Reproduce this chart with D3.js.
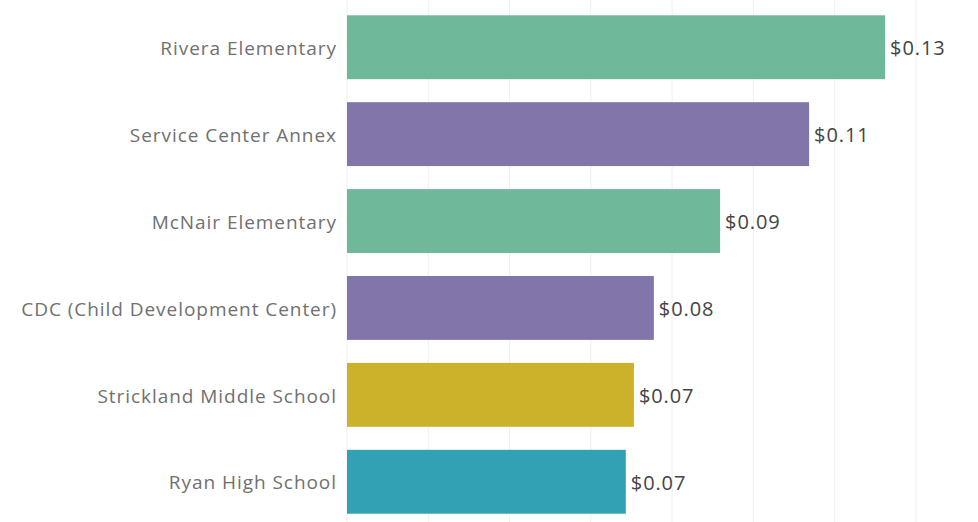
<!DOCTYPE html>
<html>
<head>
<meta charset="utf-8">
<script src="https://cdn.jsdelivr.net/npm/d3@7"></script>
<style>
  body { margin: 0; background: #fff; }
  text { font-family: "Open Sans", sans-serif; }
</style>
</head>
<body>
<div id="chart"></div>
<script>
// cost per sq ft by building
const schools = ["Rivera Elementary", "Service Center Annex", "McNair Elementary",
                 "CDC (Child Development Center)", "Strickland Middle School", "Ryan High School"];
const costs = [0.1324, 0.1137, 0.0918, 0.0755, 0.0706, 0.0686];
const barColors = ["#6fb899", "#8175aa", "#6fb899", "#8175aa", "#ccb22b", "#31a1b3"];
const gridTicks = [0, 0.02, 0.04, 0.06, 0.08, 0.10, 0.12, 0.14];

const W = 978, H = 522;
const margin = {top: 4, right: 0, bottom: 0, left: 347};

const svg = d3.select("#chart").append("svg")
    .attr("width", W).attr("height", H);

const x = d3.scaleLinear()
    .domain([0, 0.14])
    .range([margin.left, 916]);

const y = d3.scaleBand()
    .domain(schools)
    .range([margin.top, H + 3])
    .paddingInner(0.265)
    .paddingOuter(0.13);

// vertical grid
svg.append("g")
  .selectAll("line")
  .data(gridTicks)
  .join("line")
    .attr("x1", d => x(d)).attr("x2", d => x(d))
    .attr("y1", 0).attr("y2", H)
    .attr("stroke", "#efefef")
    .attr("stroke-width", 1);

// bars
svg.append("g")
  .selectAll("rect")
  .data(schools)
  .join("rect")
    .attr("x", x(0))
    .attr("y", d => y(d))
    .attr("width", (d, i) => x(costs[i]) - x(0))
    .attr("height", y.bandwidth())
    .attr("fill", (d, i) => barColors[i]);

// category labels
svg.append("g")
  .selectAll("text")
  .data(schools)
  .join("text")
    .attr("x", margin.left - 10)
    .attr("y", d => y(d) + y.bandwidth() / 2 + 1)
    .attr("dy", "0.35em")
    .attr("text-anchor", "end")
    .attr("fill", "#707070")
    .style("font-size", "19px")
    .style("letter-spacing", "0.95px")
    .text(d => d);

// value labels
svg.append("g")
  .selectAll("text")
  .data(schools)
  .join("text")
    .attr("x", (d, i) => x(costs[i]) + 5)
    .attr("y", d => y(d) + y.bandwidth() / 2 + 1)
    .attr("dy", "0.35em")
    .attr("fill", "#444")
    .style("font-size", "20px")
    .style("letter-spacing", "0.9px")
    .text((d, i) => d3.format("$.2f")(costs[i]));
</script>
</body>
</html>
